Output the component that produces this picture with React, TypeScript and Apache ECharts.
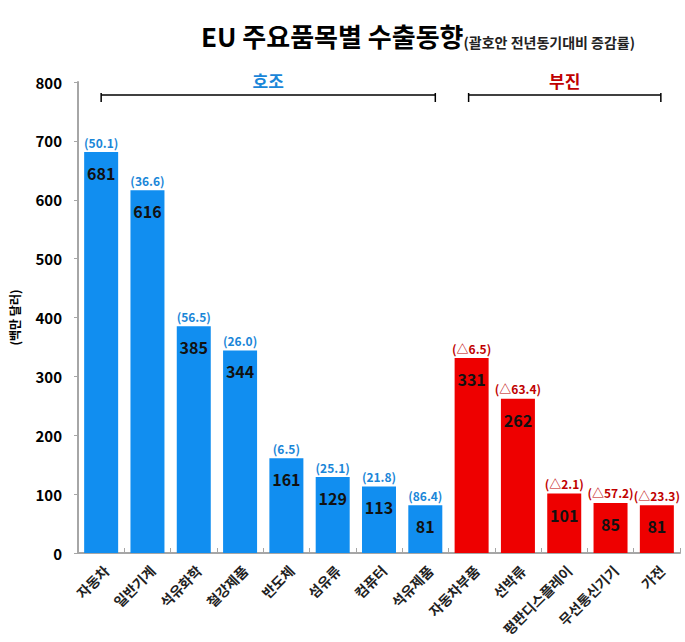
import React, { useEffect, useRef } from "react";
import * as echarts from "echarts";

const categories = ["자동차", "일반기계", "석유화학", "철강제품", "반도체", "섬유류", "컴퓨터", "석유제품", "자동차부품", "선박류", "평판디스플레이", "무선통신기기", "가전"];
const values = [681, 616, 385, 344, 161, 129, 113, 81, 331, 262, 101, 85, 81];
const changes = [50.1, 36.6, 56.5, 26.0, 6.5, 25.1, 21.8, 86.4, -6.5, -63.4, -2.1, -57.2, -23.3];
const groupNames = ["호조", "부진"];
const groupFrom = [0, 8];
const groupTo = [7, 12];
const yTicks = [0, 100, 200, 300, 400, 500, 600, 700, 800];

const BLUE = "#118ef0";
const RED = "#ee0000";
const BLUE_TXT = "#1a86d8";
const RED_TXT = "#c00000";
const FONT = "'Noto Sans CJK KR', 'Noto Sans', sans-serif";

const fmtChange = (v: number) => (v < 0 ? `(△${Math.abs(v).toFixed(1)})` : `(${v.toFixed(1)})`);

export default function App() {
  const ref = useRef<HTMLDivElement>(null);
  useEffect(() => {
    if (!ref.current) return;
    const chart = echarts.init(ref.current, undefined, { renderer: "svg" });
    const isGood = (i: number) => i <= groupTo[0];
    chart.setOption({
      animation: false,
      textStyle: { fontFamily: FONT },
      title: {
        left: 196,
        top: 12,
        text: "{a|EU 주요품목별 수출동향}{b|(괄호안 전년동기대비 증감률)}",
        textStyle: {
          rich: {
            a: { fontSize: 26, fontWeight: "bold", color: "#000", fontFamily: FONT, verticalAlign: "bottom", lineHeight: 32 },
            b: { fontSize: 14, color: "#222", fontFamily: FONT, verticalAlign: "bottom", lineHeight: 24 },
          },
        },
      },
      grid: { left: 74, right: 5, top: 82, bottom: 89 },
      xAxis: {
        type: "category",
        data: categories,
        axisLine: { lineStyle: { color: "#a6a6a6", width: 2 } },
        axisTick: { show: true, inside: true, length: 5, lineStyle: { color: "#a6a6a6" } },
        axisLabel: { rotate: 45, fontSize: 14, fontWeight: "bold", color: "#222", margin: 10, verticalAlign: "top", interval: 0, fontFamily: FONT },
      },
      yAxis: {
        type: "value",
        min: yTicks[0],
        max: yTicks[yTicks.length - 1],
        interval: 100,
        name: "(백만 달러)",
        nameLocation: "middle",
        nameRotate: 90,
        nameGap: 58,
        nameTextStyle: { fontSize: 12, fontWeight: "bold", color: "#000", fontFamily: FONT },
        axisLine: { show: true, lineStyle: { color: "#a6a6a6", width: 2 } },
        axisTick: { show: true, length: 4, lineStyle: { color: "#a6a6a6" } },
        splitLine: { show: false },
        axisLabel: { fontSize: 15, fontWeight: "bold", color: "#000", margin: 16, fontFamily: FONT },
      },
      series: [
        {
          type: "bar",
          barWidth: 34,
          data: values.map((v, i) => ({ value: v, itemStyle: { color: isGood(i) ? BLUE : RED } })),
          label: {
            show: true,
            position: "insideTop",
            distance: 13,
            fontSize: 16,
            fontWeight: "bold",
            color: "#111",
            fontFamily: FONT,
          },
          z: 2,
        },
        {
          type: "bar",
          barWidth: 34,
          barGap: "-100%",
          data: values.map((v, i) => ({
            value: v,
            itemStyle: { color: "rgba(0,0,0,0)" },
            label: { color: isGood(i) ? BLUE_TXT : RED_TXT },
          })),
          label: {
            show: true,
            position: "top",
            distance: 4,
            fontSize: 12,
            fontWeight: "bold",
            fontFamily: FONT,
            formatter: (p: any) => fmtChange(changes[p.dataIndex]),
          },
          z: 3,
          silent: true,
        },
      ],
    });

    const px = (i: number) => chart.convertToPixel({ xAxisIndex: 0 }, i) as number;
    const lineY = 95;
    const graphics: any[] = [];
    groupNames.forEach((name, g) => {
      const x1 = px(groupFrom[g]) + (g === 0 ? 0 : -3);
      const x2 = px(groupTo[g]) + (g === 0 ? 10 : 4);
      graphics.push({ type: "line", shape: { x1, y1: lineY, x2, y2: lineY }, style: { stroke: "#000", lineWidth: 1.3 } });
      graphics.push({ type: "line", shape: { x1, y1: lineY - 2, x2: x1, y2: lineY + 7 }, style: { stroke: "#000", lineWidth: 1.5 } });
      graphics.push({ type: "line", shape: { x1: x2, y1: lineY - 2, x2: x2, y2: lineY + 7 }, style: { stroke: "#000", lineWidth: 1.5 } });
      graphics.push({
        type: "text",
        x: (x1 + x2) / 2,
        y: 80,
        style: {
          text: name,
          fontSize: 17,
          fontWeight: "bold",
          fill: g === 0 ? BLUE_TXT : RED_TXT,
          fontFamily: FONT,
          textAlign: "center",
          textVerticalAlign: "middle",
        },
      });
    });
    chart.setOption({ graphic: graphics });

    return () => chart.dispose();
  }, []);
  return <div ref={ref} style={{ position: "absolute", left: 0, top: 0, width: 685, height: 642 }} />;
}
